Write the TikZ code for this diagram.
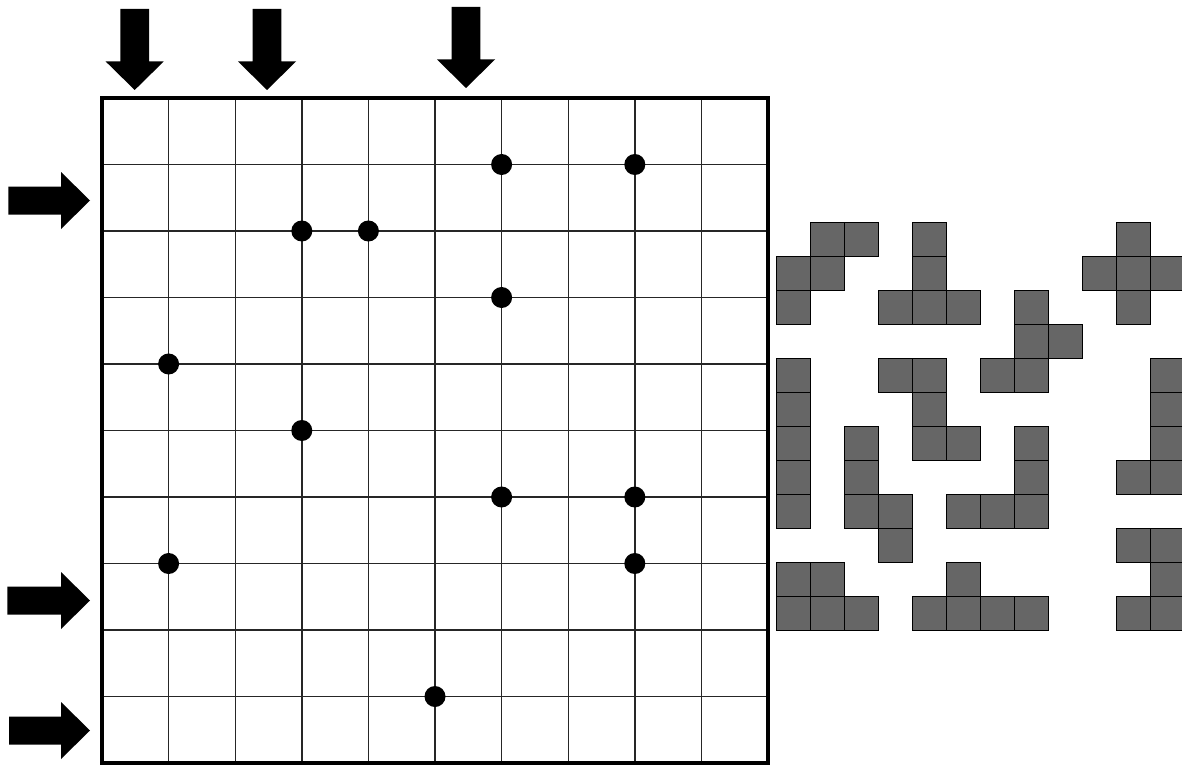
\documentclass[tikz,border=0pt]{standalone}
\begin{document}
\begin{tikzpicture}[x=1pt,y=-1pt,
  gridline/.style={line width=1.4pt, draw=black!85},
  frame/.style={line width=3.5pt, draw=black},
  dot/.style={circle, fill=black, inner sep=0pt, minimum size=21pt},
  cell/.style={fill=black!60, draw=black, line width=1.1pt},
  bigarrow/.style={fill=black, draw=none}]
\useasboundingbox (0,0) rectangle (1182,765);
\fill[white] (0,0) rectangle (1182,765);
% grid
\foreach \i in {1,...,9} {
  \draw[gridline] ({102+66.6*\i},98) -- ({102+66.6*\i},763);
  \draw[gridline] (102,{98+66.5*\i}) -- (768,{98+66.5*\i});
}
\draw[frame] (102,98) rectangle (768,763);
% dots at grid intersections (column, row)
\foreach \c/\r [count=\k] in {6/1,8/1,3/2,4/2,6/3,1/4,3/5,6/6,8/6,1/7,8/7,5/9} {
  \node[dot] (d\k) at ({102+66.6*\c},{98+66.5*\r}) {};
}
% top arrows
\foreach \x/\t in {134.7/9,267/9,466/7} {
  \fill[bigarrow] ({\x-14.3},\t) -- ({\x+14.3},\t) -- ({\x+14.3},{\t+52.5}) -- ({\x+29},{\t+52.5})
    -- (\x,{\t+81}) -- ({\x-29},{\t+52.5}) -- ({\x-14.3},{\t+52.5}) -- cycle;
}
% left arrows
\foreach \y/\l in {200.5/8.3,600.5/7.3,730.5/9} {
  \fill[bigarrow] (\l,{\y-14}) -- (61,{\y-14}) -- (61,{\y-28.5}) -- (90,\y)
    -- (61,{\y+28.5}) -- (61,{\y+14}) -- (\l,{\y+14}) -- cycle;
}
% pentomino pieces
\begin{scope}
\clip (770,200) rectangle (1182,640);
\foreach \c/\r in {
  1/0,2/0,0/1,1/1,0/2,
  4/0,4/1,3/2,4/2,5/2,
  10/0,9/1,10/1,11/1,10/2,
  7/2,7/3,8/3,6/4,7/4,
  0/4,0/5,0/6,0/7,0/8,
  3/4,4/4,4/5,4/6,5/6,
  2/6,2/7,2/8,3/8,3/9,
  7/6,7/7,5/8,6/8,7/8,
  11/4,11/5,11/6,10/7,11/7,
  0/10,1/10,0/11,1/11,2/11,
  5/10,4/11,5/11,6/11,7/11,
  10/9,11/9,11/10,10/11,11/11} {
  \draw[cell] ({776.7+34*\c},{222.3+34*\r}) rectangle ++(34,34);
}
\end{scope}
\end{tikzpicture}
\end{document}
